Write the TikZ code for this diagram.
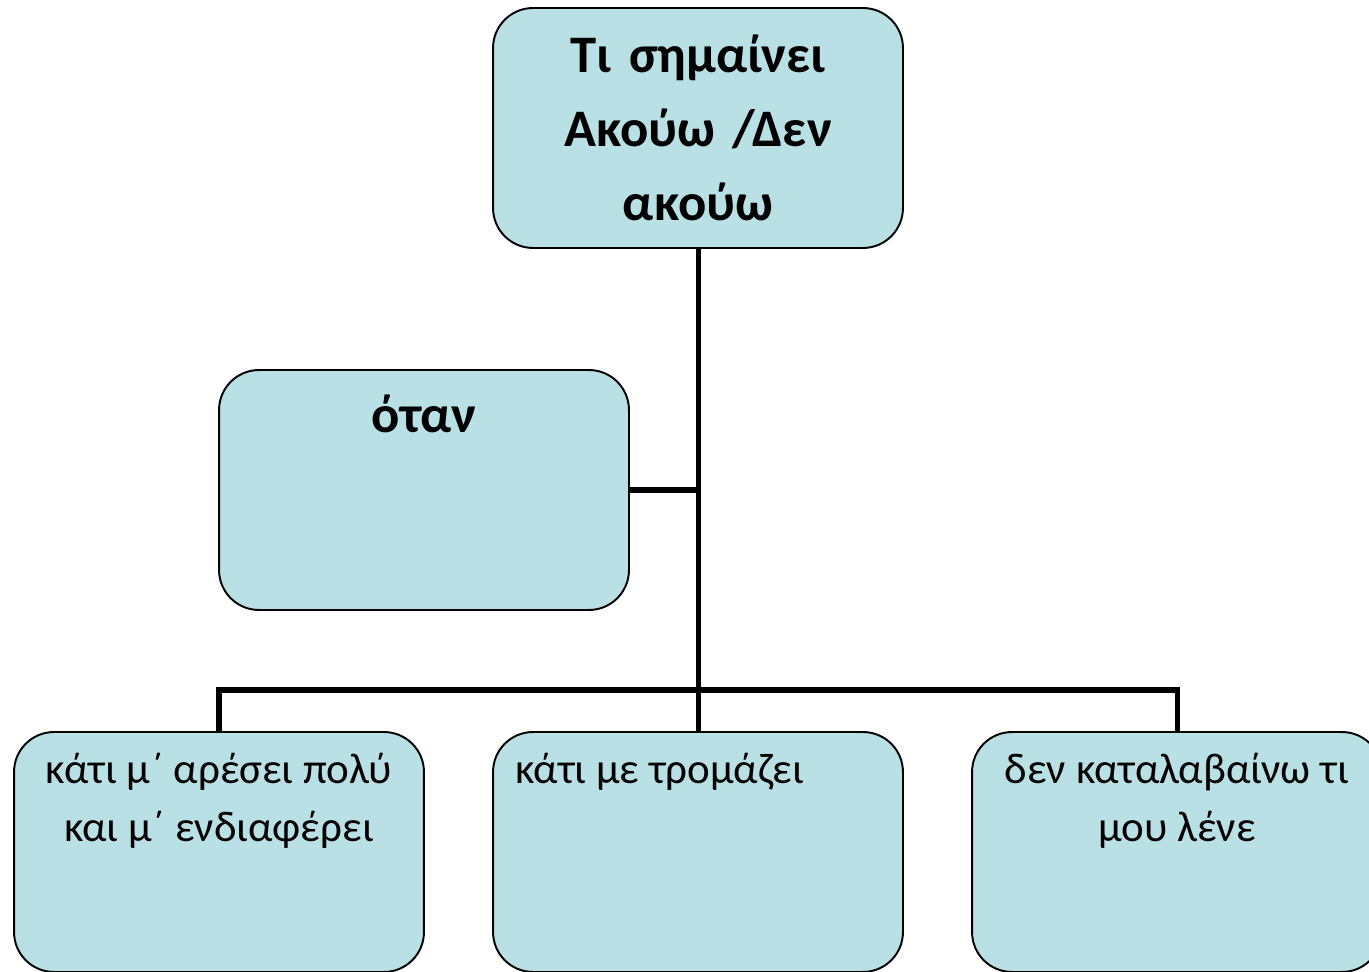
\documentclass[tikz,border=0pt]{standalone}
\usepackage{fontspec}
\setmainfont{Carlito}
\usetikzlibrary{positioning}

\definecolor{cardblue}{RGB}{185,224,228}
\newcommand{\cardtext}[2]{\parbox[c][4.36cm][t]{7.3cm}{#1\strut #2}}

\begin{document}
\begin{tikzpicture}[x=0.02cm, y=-0.02cm,
        card/.style={draw=black, line width=1.1pt, fill=cardblue, rounded corners=0.8cm,
                     minimum width=8.2cm, minimum height=4.8cm, inner xsep=0pt, inner ysep=0.22cm},
        link/.style={line width=2.85pt},
        bigtext/.style={font=\fontsize{30}{42}\selectfont\bfseries},
        smalltext/.style={font=\fontsize{24.5}{33}\selectfont}]
        \useasboundingbox (0,0) rectangle (1369,972);
        \clip (0,0) rectangle (1369,972);

        \node [card, bigtext, align=center, text width=7.3cm] (title) at (698,128)
            {Τι σημαίνει\\ Ακούω /Δεν\\ ακούω};
        \node [card, bigtext] (when) at (424,490) {\cardtext{\centering}{όταν}};

        \node [card, smalltext] (like)   at (219,852) {\cardtext{\centering}{κάτι μ΄ αρέσει πολύ\\ και μ΄ ενδιαφέρει}};
        \node [card, smalltext] (scared) at (698,852) {\cardtext{\raggedright}{κάτι με τρομάζει}};
        \node [card, smalltext] (lost)   at (1177,852) {\cardtext{\centering}{δεν καταλαβαίνω τι\\ μου λένε}};

        \coordinate (bus) at (698,690);
        \draw [link] (title.south) -- (bus);
        \draw [link] (when.east) -- (when.east -| title.south);
        \draw [link] (like.north) |- (bus) -| (lost.north);
        \draw [link] (bus) -- (scared.north);
\end{tikzpicture}
\end{document}
